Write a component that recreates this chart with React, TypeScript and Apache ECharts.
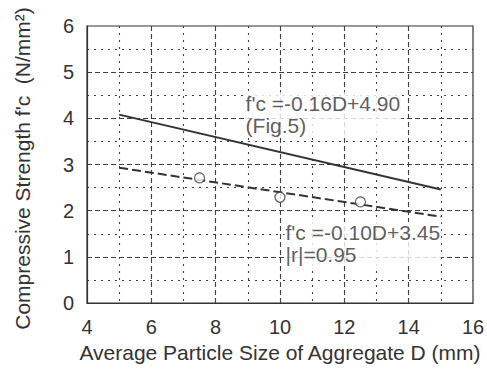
import React, { useEffect, useRef } from "react";
import * as echarts from "echarts";

const xTicks = { min: 4, max: 16, interval: 2 };
const yTicks = { min: 0, max: 6, interval: 1 };
const fig5Line: [number, number][] = [[5, 4.08], [15, 2.46]];
const fitLine: [number, number][] = [[5, 2.93], [15, 1.87]];
const measured: [number, number][] = [[7.5, 2.71], [10, 2.29], [12.5, 2.19]];
const annotations: [number, number, string][] = [
  [8.9, 4.09, "f'c =-0.16D+4.90\n(Fig.5)"],
  [10.14, 1.28, "f'c =-0.10D+3.45\n|r|=0.95"],
];

const FONT = "'Liberation Sans', Arial, sans-serif";
const INK = "#333";
const GRID = "#3f3f3f";

export default function App() {
  const ref = useRef<HTMLDivElement>(null);
  useEffect(() => {
    if (!ref.current) return;
    const chart = echarts.init(ref.current, undefined, { renderer: "svg" });
    const axisCommon = {
      type: "value" as const,
      axisTick: { show: false },
      axisLine: { show: true, lineStyle: { color: INK, width: 1.2 } },
      axisLabel: { color: "#333", fontFamily: FONT, fontSize: 20 },
      minorTick: { show: false, splitNumber: 2 },
      splitLine: {
        show: true,
        showMinLine: false,
        showMaxLine: false,
        lineStyle: { color: GRID, width: 1.1, type: [5, 3] },
      },
      minorSplitLine: {
        show: true,
        lineStyle: { color: GRID, width: 1.1, type: [2, 5] },
      },
      nameLocation: "middle" as const,
    };
    chart.setOption({
      animation: false,
      backgroundColor: "#fff",
      grid: {
        left: 87,
        right: 14,
        top: 26,
        bottom: 68,
        containLabel: false,
        outerBoundsMode: "none",
        show: true,
        borderColor: INK,
        borderWidth: 1.2,
        backgroundColor: "transparent",
      },
      xAxis: {
        ...axisCommon,
        ...xTicks,
        name: "Average Particle Size of Aggregate D (mm)",
        nameGap: 35,
        nameTextStyle: { color: "#333", fontFamily: FONT, fontSize: 21 },
        axisLabel: { ...axisCommon.axisLabel, margin: 14 },
      },
      yAxis: {
        ...axisCommon,
        ...yTicks,
        name: "Compressive Strength f'c  (N/mm²)",
        nameGap: 54,
        nameTextStyle: { color: "#333", fontFamily: FONT, fontSize: 21, padding: [0, 8, 0, 0] },
        axisLabel: { ...axisCommon.axisLabel, margin: 13 },
      },
      series: [
        {
          type: "line",
          data: fig5Line,
          symbol: "none",
          lineStyle: { color: INK, width: 2 },
          z: 3,
        },
        {
          type: "line",
          data: fitLine,
          symbol: "none",
          lineStyle: { color: INK, width: 2, type: [9, 4] },
          z: 3,
        },
        {
          type: "scatter",
          data: measured,
          symbol: "circle",
          symbolSize: 10,
          itemStyle: { color: "#fff", borderColor: INK, borderWidth: 1.2 },
          z: 4,
        },
        {
          type: "scatter",
          data: annotations,
          symbolSize: 0,
          silent: true,
          z: 5,
          label: {
            show: true,
            position: "right",
            distance: 0,
            align: "left",
            verticalAlign: "middle",
            formatter: (p: any) => p.data[2],
            color: "#333",
            fontFamily: FONT,
            fontSize: 21,
            lineHeight: 22,
            backgroundColor: "#fff",
            padding: [0, 1],
          },
        },
      ],
    });
    return () => chart.dispose();
  }, []);
  return <div ref={ref} style={{ width: 487, height: 371, position: "absolute", left: 0, top: 0 }} />;
}
